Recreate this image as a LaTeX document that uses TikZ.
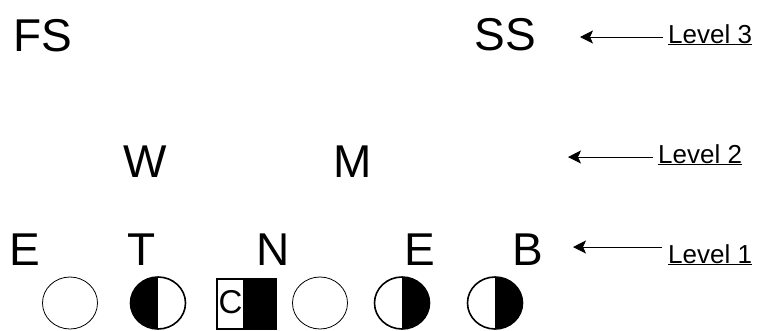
\documentclass[tikz,border=0pt]{standalone}
\usepackage{fontspec}
\setmainfont{Liberation Sans}
\usetikzlibrary{shapes.geometric,arrows.meta}
\begin{document}
\begin{tikzpicture}[x=1pt,y=1pt,
  big/.style={font=\fontsize{46}{50}\selectfont, inner sep=0pt, anchor=base},
  lvl/.style={font=\fontsize{26}{30}\selectfont, inner sep=0pt, anchor=base west},
  player/.style={ellipse, draw, minimum width=55pt, minimum height=52pt, inner sep=0pt},
  thin/.style={line width=0.8pt},
  thick2/.style={line width=1.6pt},
  leftblack/.style={path picture={\fill[black] (path picture bounding box.north west) rectangle (path picture bounding box.south);}},
  rightblack/.style={path picture={\fill[black] (path picture bounding box.north) rectangle (path picture bounding box.south east);}},
  ptr/.style={-{Stealth[length=13pt,width=13pt,inset=3pt]}, line width=1pt}]
\useasboundingbox (0,0) rectangle (758,-330);

% Level 3
\node[big] (fs) at (43,-51) {FS};
\node[big] (ss) at (505,-50) {SS};
% Level 2
\node[big] (w) at (145,-177) {W};
\node[big] (m) at (353,-177) {M};
% Level 1
\node[big] (e1) at (25,-265) {E};
\node[big] (t) at (142,-265) {T};
\node[big] (n) at (273,-265) {N};
\node[big] (e2) at (420,-265) {E};
\node[big] (b) at (528,-265) {B};

% players
\node[player, thin] (c1) at (70,-303) {};
\node[player, thick2, leftblack] (c2) at (158,-303) {};
\node[draw, line width=1.3pt, minimum width=59pt, minimum height=50pt, inner sep=0pt,
  path picture={\fill[black] ([xshift=26pt]path picture bounding box.north west) rectangle (path picture bounding box.south east);}] (box) at (246.5,-304) {};
\node[font=\fontsize{33}{36}\selectfont, inner sep=0pt] (ctext) at (230.5,-302) {C};
\node[player, thin] (c4) at (320,-303) {};
\node[player, thick2, rightblack] (c5) at (402,-303) {};
\node[player, thick2, rightblack] (c6) at (495,-303) {};

% level labels
\node[lvl] (l3) at (668,-43) {\underline{Level 3}};
\node[lvl] (l2) at (658,-163) {\underline{Level 2}};
\node[lvl] (l1) at (668,-263) {\underline{Level 1}};

\coordinate (a3s) at (663,-37);
\coordinate (a3e) at (580,-37);
\coordinate (a2s) at (653,-157);
\coordinate (a2e) at (568,-157);
\coordinate (a1s) at (662,-247);
\coordinate (a1e) at (573,-247);
\draw[ptr] (a3s) -- (a3e);
\draw[ptr] (a2s) -- (a2e);
\draw[ptr] (a1s) -- (a1e);
\end{tikzpicture}
\end{document}
